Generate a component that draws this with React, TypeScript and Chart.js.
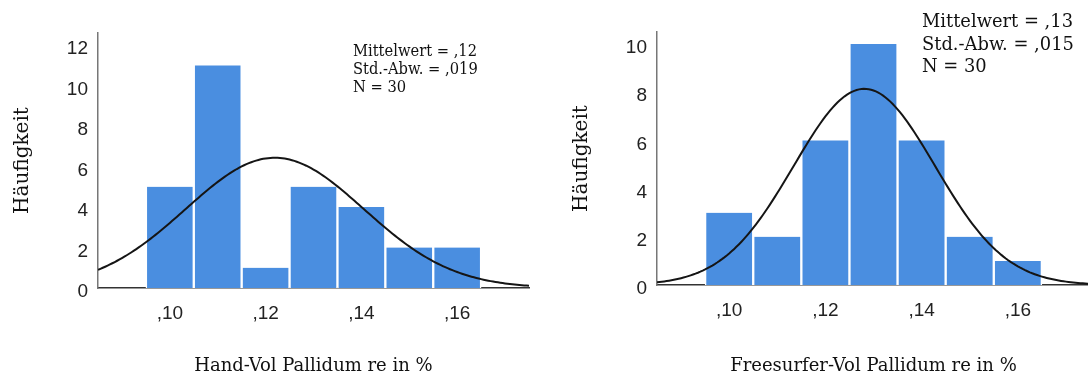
import React, { useEffect, useRef } from "react";
import { Chart, registerables } from "chart.js";

Chart.register(...registerables);

// ---- data ----
const binCenters = [0.1, 0.11, 0.12, 0.13, 0.14, 0.15, 0.16];
const handCounts = [5, 11, 1, 5, 4, 2, 2];
const freesurferCounts = [3, 2, 6, 10, 6, 2, 1];
const xTickValues = [0.1, 0.12, 0.14, 0.16];
const handYTicks = [0, 2, 4, 6, 8, 10, 12];
const freesurferYTicks = [0, 2, 4, 6, 8, 10];
const binWidth = 0.01;
const handMean = 0.1219;
const handSd = 0.0186;
const freesurferMean = 0.1281;
const freesurferSd = 0.0147;
const sampleSize = 30;
const handStatsText = ["Mittelwert = ,12", "Std.-Abw. = ,019", "N = 30"];
const freesurferStatsText = ["Mittelwert = ,13", "Std.-Abw. = ,015", "N = 30"];
const handXTitle = "Hand-Vol Pallidum re in %";
const freesurferXTitle = "Freesurfer-Vol Pallidum re in %";
const yTitle = "Häufigkeit";
const xMin = 0.085;
const xMax = 0.175;

// fitted normal curve (expected counts per bin) from the displayed statistics
function normalCurve(mean: number, sd: number, n: number) {
  const pts: { x: number; y: number }[] = [];
  const steps = 180;
  for (let i = 0; i <= steps; i++) {
    const x = xMin + ((xMax - xMin) * i) / steps;
    const z = (x - mean) / sd;
    const y = ((n * binWidth) / (sd * Math.sqrt(2 * Math.PI))) * Math.exp(-0.5 * z * z);
    pts.push({ x, y });
  }
  return pts;
}

const BAR_COLOR = "#4a8ee0";

type PanelProps = {
  counts: number[];
  mean: number;
  sd: number;
  yMax: number;
  yTicks: number[];
  xTitle: string;
  stats: string[];
  width: number;
  height: number;
  pad: { top: number; right: number };
  yAxisWidth: number;
  xAxisHeight: number;
  yTitlePad: number;
  statsPos: { x: number; y: number; gap: number; size: number; width: number };
};

function HistPanel(p: PanelProps) {
  const ref = useRef<HTMLCanvasElement>(null);
  useEffect(() => {
    if (!ref.current) return;
    const statsPlugin = {
      id: "statsText",
      afterDraw(chart: any) {
        const ctx = chart.ctx;
        ctx.save();
        ctx.fillStyle = "#111";
        ctx.font = `${p.statsPos.size}px "DejaVu Serif"`;
        ctx.textBaseline = "middle";
        ctx.textAlign = "left";
        const w = ctx.measureText(p.stats[0]).width;
        const sx = p.statsPos.width / w;
        p.stats.forEach((line, i) => {
          ctx.save();
          ctx.translate(p.statsPos.x, p.statsPos.y + i * p.statsPos.gap);
          ctx.scale(sx, 1);
          ctx.fillText(line, 0, 0);
          ctx.restore();
        });
        ctx.restore();
      },
    };
    const chart = new Chart(ref.current, {
      type: "bar",
      data: {
        datasets: [
          {
            type: "line",
            data: normalCurve(p.mean, p.sd, sampleSize),
            borderColor: "#151515",
            borderWidth: 2,
            pointRadius: 0,
            tension: 0,
            order: 0,
          } as any,
          {
            type: "bar",
            data: binCenters.map((x, i) => ({ x, y: p.counts[i] })),
            backgroundColor: BAR_COLOR,
            borderColor: "#ffffff",
            borderWidth: { left: 1.5, right: 1.5, top: 0, bottom: 0 },
            borderSkipped: false,
            barPercentage: 1,
            categoryPercentage: 1,
            order: 1,
          } as any,
        ],
      },
      options: {
        responsive: false,
        animation: false,
        devicePixelRatio: 1,
        layout: { padding: { top: p.pad.top, right: p.pad.right, left: 0, bottom: 0 } },
        plugins: { legend: { display: false }, tooltip: { enabled: false } },
        scales: {
          x: {
            type: "linear",
            min: xMin,
            max: xMax,
            offset: false,
            grid: { display: false, drawTicks: false },
            border: { display: true, color: "#333", width: 1.5 },
            afterBuildTicks: (scale: any) => {
              scale.ticks = xTickValues.map((v) => ({ value: v }));
            },
            afterFit: (scale: any) => {
              scale.height = p.xAxisHeight;
            },
            ticks: {
              padding: 14,
              color: "#222",
              font: { family: "Liberation Sans", size: 19 },
              maxRotation: 0,
              autoSkip: false,
              callback: (v: any) => "," + String(Math.round(Number(v) * 100)).padStart(2, "0"),
            },
            title: {
              display: true,
              text: p.xTitle,
              color: "#111",
              font: { family: "DejaVu Serif", size: 18 },
              padding: { top: 0, bottom: 1 },
            },
          },
          y: {
            type: "linear",
            min: 0,
            max: p.yMax,
            grid: { display: false, drawTicks: false },
            border: { display: true, color: "#777", width: 1.5 },
            afterBuildTicks: (scale: any) => {
              scale.ticks = p.yTicks.map((v) => ({ value: v }));
            },
            afterFit: (scale: any) => {
              scale.width = p.yAxisWidth;
            },
            ticks: {
              padding: 10,
              labelOffset: 4,
              color: "#222",
              font: { family: "Liberation Sans", size: 19 },
              autoSkip: false,
            },
            title: {
              display: true,
              text: yTitle,
              color: "#111",
              font: { family: "DejaVu Serif", size: 20 },
              padding: { top: p.yTitlePad, bottom: 0 },
            },
          },
        },
      } as any,
      plugins: [statsPlugin],
    });
    return () => chart.destroy();
  }, []);
  return (
    <canvas
      ref={ref}
      width={p.width}
      height={p.height}
      style={{ width: p.width, height: p.height, display: "block" }}
    />
  );
}

export default function App() {
  return (
    <div
      style={{
        position: "absolute",
        left: 0,
        top: 0,
        width: 1088,
        height: 378,
        overflow: "hidden",
        background: "#fff",
      }}
    >
      <div style={{ position: "absolute", left: 0, top: 0 }}>
        <HistPanel
          counts={handCounts}
          mean={handMean}
          sd={handSd}
          yMax={12.6}
          yTicks={handYTicks}
          xTitle={handXTitle}
          stats={handStatsText}
          width={540}
          height={378}
          pad={{ top: 33, right: 11 }}
          yAxisWidth={98}
          xAxisHeight={90}
          yTitlePad={11}
          statsPos={{ x: 353, y: 52, gap: 18, size: 16, width: 124 }}
        />
      </div>
      <div style={{ position: "absolute", left: 548, top: 0 }}>
        <HistPanel
          counts={freesurferCounts}
          mean={freesurferMean}
          sd={freesurferSd}
          yMax={10.5}
          yTicks={freesurferYTicks}
          xTitle={freesurferXTitle}
          stats={freesurferStatsText}
          width={560}
          height={378}
          pad={{ top: 32, right: 18 }}
          yAxisWidth={109}
          xAxisHeight={93}
          yTitlePad={22}
          statsPos={{ x: 374, y: 22.5, gap: 22.3, size: 19, width: 151 }}
        />
      </div>
    </div>
  );
}
